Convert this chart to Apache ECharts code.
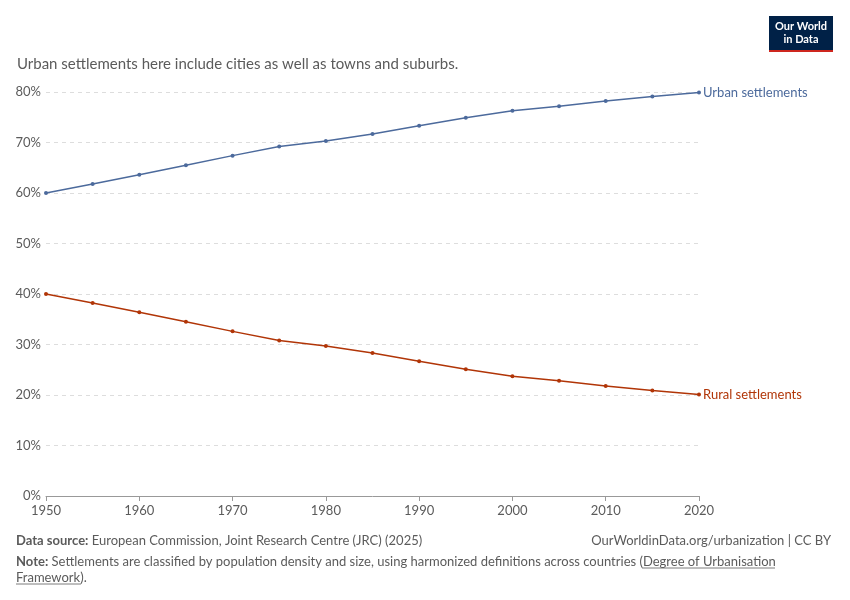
<!DOCTYPE html>
<html>
<head>
<meta charset="utf-8">
<script src="https://cdn.jsdelivr.net/npm/echarts@6/dist/echarts.min.js"></script>
<style>
html,body{margin:0;padding:0;background:#fff;}
#chart{width:850px;height:600px;}
</style>
</head>
<body>
<div id="chart"></div>
<script>
var years = [1950, 1955, 1960, 1965, 1970, 1975, 1980, 1985, 1990, 1995, 2000, 2005, 2010, 2015, 2020];
var urban = [60.0, 61.8, 63.6, 65.5, 67.4, 69.2, 70.3, 71.7, 73.3, 74.9, 76.3, 77.2, 78.2, 79.1, 79.9];
var rural = [40.0, 38.2, 36.4, 34.5, 32.6, 30.8, 29.7, 28.3, 26.7, 25.1, 23.7, 22.8, 21.8, 20.9, 20.1];

var font = "Lato, 'Noto Sans', sans-serif";
var grey = "#5b5b5b";

function pairs(arr) {
    var out = [];
    for (var i = 0; i < years.length; i++) out.push([years[i], arr[i]]);
    return out;
}

function lineSeries(name, arr, color) {
    return {
        name: name,
        type: 'line',
        data: pairs(arr),
        symbol: 'circle',
        symbolSize: 4,
        lineStyle: { color: color, width: 1.5 },
        itemStyle: { color: color },
        endLabel: {
            show: true,
            formatter: name,
            color: color,
            fontFamily: font,
            fontSize: 13,
            distance: 4
        }
    };
}

var myChart = echarts.init(document.getElementById('chart'));
myChart.setOption({
    animation: false,
    textStyle: { fontFamily: font },
    grid: { left: 46, right: 151, top: 92, bottom: 104 },
    title: [
        { text: 'Urban settlements here include cities as well as towns and suburbs.', left: 12, top: 52,
          textStyle: { fontSize: 15, fontWeight: 'normal', color: grey, fontFamily: font } }
    ],
    graphic: [
        { type: 'rect', shape: { x: 769, y: 16, width: 64, height: 34 }, style: { fill: '#002147' } },
        { type: 'rect', shape: { x: 769, y: 50, width: 64, height: 2 }, style: { fill: '#ce261e' } },
        { type: 'text', x: 801, y: 20, style: { text: 'Our World\nin Data', fill: '#fff', font: 'bold 11px ' + font, align: 'center', lineHeight: 13 } },
        { type: 'text', x: 16, y: 534, style: { text: '{b|Data source:} European Commission, Joint Research Centre (JRC) (2025)',
            rich: { b: { fontWeight: 'bold', fill: grey, fontSize: 13, fontFamily: font } }, fill: grey, font: '13px ' + font } },
        { type: 'text', x: 831, y: 534, style: { text: 'OurWorldinData.org/urbanization | CC BY', fill: grey, font: '13px ' + font, align: 'right' } },
        { type: 'text', x: 16, y: 554, style: { text: '{b|Note:} Settlements are classified by population density and size, using harmonized definitions across countries (Degree of Urbanisation\nFramework).',
            rich: { b: { fontWeight: 'bold', fill: grey, fontSize: 13, fontFamily: font } },
            fill: grey, font: '13px ' + font, lineHeight: 16 } },
        { type: 'line', shape: { x1: 642, y1: 568, x2: 775, y2: 568 }, style: { stroke: grey, lineWidth: 0.8 } },
        { type: 'line', shape: { x1: 16, y1: 584, x2: 81, y2: 584 }, style: { stroke: grey, lineWidth: 0.8 } }
    ],
    xAxis: {
        type: 'value', min: 1950, max: 2020, interval: 10,
        axisLine: { show: true, lineStyle: { color: '#999' } },
        axisTick: { show: true, lineStyle: { color: '#999' } },
        splitLine: { show: false },
        axisLabel: { color: grey, fontSize: 13, fontFamily: font, formatter: function (v) { return String(v); } }
    },
    yAxis: {
        type: 'value', min: 0, max: 80, interval: 10,
        axisLine: { show: false }, axisTick: { show: false },
        splitLine: { lineStyle: { color: '#ddd', type: [4, 4] } },
        axisLabel: { color: grey, fontSize: 13, fontFamily: font, formatter: '{value}%', margin: 5 }
    },
    series: [
        lineSeries('Urban settlements', urban, '#4c6a9c'),
        lineSeries('Rural settlements', rural, '#b13507')
    ]
});
</script>
</body>
</html>
